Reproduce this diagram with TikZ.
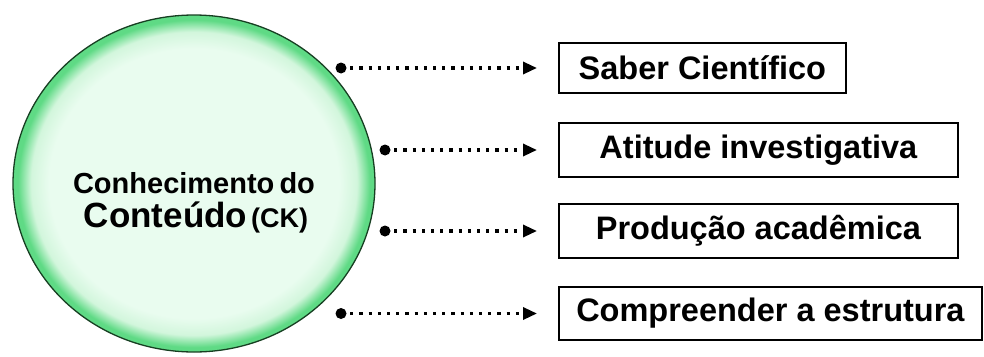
\documentclass[tikz,border=0pt]{standalone}
\usepackage{fontspec}
\setmainfont{Liberation Sans}
\usetikzlibrary{arrows.meta,shapes.geometric}

\definecolor{mintcore}{HTML}{E9FCEF}
\definecolor{mintmid}{HTML}{D2F6DC}
\definecolor{mintring}{HTML}{5FDA85}
\definecolor{mintedge}{HTML}{173F22}

% pale centre fading into a thin green rim
\pgfdeclareradialshading{mintball}{\pgfpoint{0bp}{0bp}}{%
  color(0bp)=(mintcore); color(20bp)=(mintcore); color(22.5bp)=(mintmid);
  color(24.3bp)=(mintring); color(25bp)=(mintring); color(50bp)=(mintring)}

\tikzset{
  topicbox/.style={draw=black, line width=1.8pt, fill=white, anchor=west,
    inner sep=0pt, font=\bfseries\fontsize{32.5}{36}\selectfont},
  rootdot/.style={circle, fill=black, inner sep=0pt, minimum size=11pt},
  link/.style={line width=3.2pt, dash pattern=on 3.2pt off 6pt,
    -{Triangle[length=14pt,width=12pt]}, shorten >=21pt},
  cktext/.style={anchor=base, inner sep=0pt, font=\bfseries}
}

\begin{document}
\begin{tikzpicture}[x=1pt,y=-1pt]
\useasboundingbox (0,0) rectangle (984,356);

% central topic
\node[ellipse, minimum width=362pt, minimum height=337pt, shading=mintball,
      draw=mintedge, line width=1.3pt, inner sep=0pt] (ck) at (194,183.5) {};
\node[cktext] (cktop) at (194,193)
  {\fontsize{29}{30}\selectfont Conhecimento\kern-3pt\ do};
\node[cktext] (ckbot) at (196,227)
  {\fontsize{35}{36}\selectfont Conteúdo\kern4pt\fontsize{27}{28}\selectfont(CK)};

% topic boxes
\node[topicbox, minimum width=287pt, minimum height=50pt] (b1) at (558,68)  {Saber Científico};
\node[topicbox, minimum width=399pt, minimum height=54pt] (b2) at (558,150) {Atitude investigativa};
\node[topicbox, minimum width=399pt, minimum height=54pt] (b3) at (558,231) {Produção acadêmica};
\node[topicbox, minimum width=423pt, minimum height=53pt] (b4) at (558,313.5) {Compreender a estrutura};

% connector start dots
\node[rootdot] (d1) at (341,68)    {};
\node[rootdot] (d2) at (385,150)   {};
\node[rootdot] (d3) at (385,231)   {};
\node[rootdot] (d4) at (341,313.5) {};

% dotted connectors
\draw[link] (d1.center) -- (b1.west);
\draw[link] (d2.center) -- (b2.west);
\draw[link] (d3.center) -- (b3.west);
\draw[link] (d4.center) -- (b4.west);
\end{tikzpicture}
\end{document}
